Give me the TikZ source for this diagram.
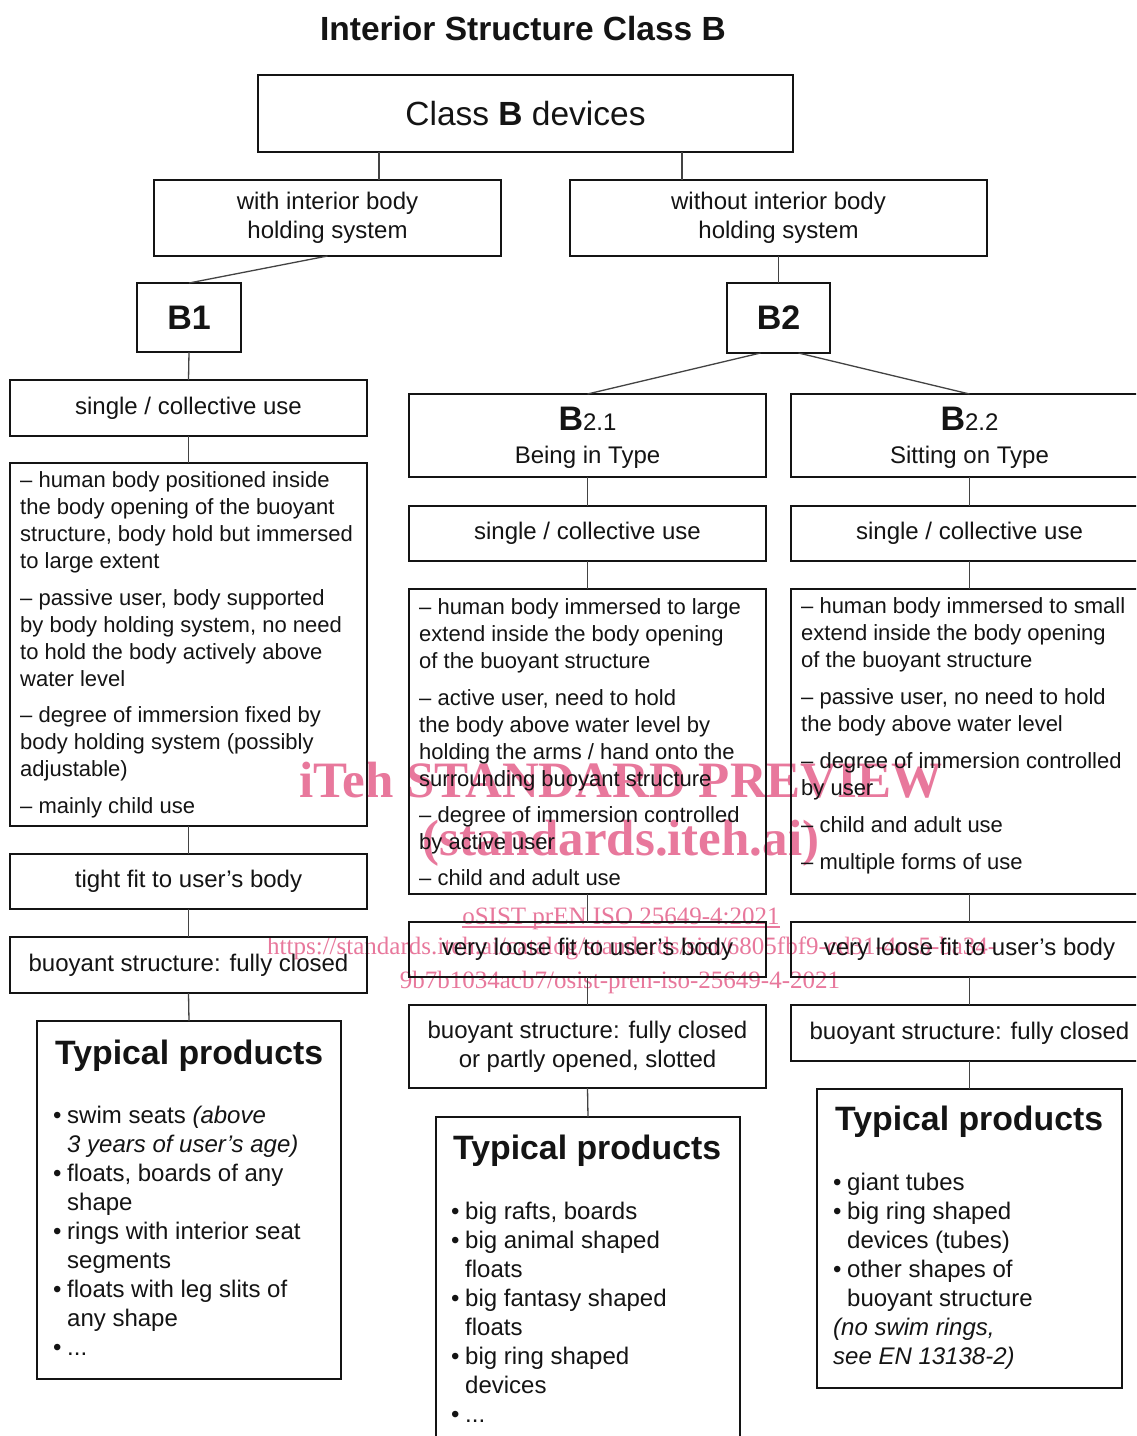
\documentclass[tikz,border=0pt]{standalone}
\usepackage{fontspec}
\setmainfont{Liberation Sans}
\newfontfamily\wmfont{Liberation Serif}
\usetikzlibrary{calc}
\definecolor{wmpink}{RGB}{232,120,156}
\definecolor{ink}{RGB}{20,20,20}
\newcommand{\fsz}[2]{\fontsize{#1}{#2}\selectfont}
\newcommand{\bul}{\makebox[14pt][l]{•}}
\newcommand{\ind}{\hspace*{14pt}}
\begin{document}
\begin{tikzpicture}[x=1pt,y=-1pt,
  box/.style={draw=ink,line width=1.8pt,inner sep=0pt,outer sep=0pt,text=ink,align=center,font=\fsz{24}{29}},
  conn/.style={draw=ink!80,line width=1.3pt},
  desc/.style={anchor=base west,inner sep=0pt,align=left,text=ink,font=\fsz{22}{27}},
  prodhead/.style={anchor=base west,inner sep=0pt,text=ink,font=\fsz{33.8}{33.8}\bfseries},
  prodlist/.style={anchor=base west,inner sep=0pt,align=left,text=ink,font=\fsz{24}{29}},
  wmbig/.style={anchor=base,inner sep=0pt,text=wmpink,font=\wmfont\fsz{51}{51}\bfseries},
  wmsmall/.style={inner sep=0pt,text=wmpink,font=\wmfont\fsz{25}{25}}
]
\useasboundingbox (0,0) rectangle (1136,1436);
\clip (0,0) rectangle (1136,1436);
\fill[white] (0,0) rectangle (1136,1436);

% watermark
\node[wmbig] (wm1) at (621,797) {iTeh STANDARD PREVIEW};
\node[wmbig] (wm2) at (621,855) {(standards.iteh.ai)};
\node[wmsmall,anchor=base] (wm3) at (621,924) {oSIST prEN ISO 25649-4:2021};
\draw[wmpink,line width=1.2pt] ($(wm3.base west)+(0,3)$) -- ($(wm3.base east)+(0,3)$);
\node[wmsmall,anchor=base west] (wm4) at (267,954) {https://standards.iteh.ai/catalog/standards/sist/6805fbf9-cd31-4ce5-ba34-};
\node[wmsmall,anchor=base] (wm5) at (620,988) {9b7b1034acb7/osist-pren-iso-25649-4-2021};

% title
\node[anchor=base,inner sep=0pt,text=ink,font=\fsz{33.5}{33.5}\bfseries] (title) at (523,40) {Interior Structure Class B};

% top level
\node[box,minimum width=535pt,minimum height=77pt,font=\fsz{33.5}{33.5}] (classb) at (525.5,113.5) {Class \textbf{B} devices};
\node[box,minimum width=347pt,minimum height=76pt] (with) at (327.5,218) {with interior body\\holding system};
\node[box,minimum width=417pt,minimum height=76pt] (without) at (778.5,218) {without interior body\\holding system};
\node[box,minimum width=104pt,minimum height=69pt,font=\fsz{34}{34}\bfseries] (b1) at (189,317.5) {B1};
\node[box,minimum width=103pt,minimum height=70pt,font=\fsz{34}{34}\bfseries] (b2) at (778.5,318) {B2};

% B1 column
\node[box,minimum width=357pt,minimum height=56pt] (b1use) at (188.5,408) {single / collective use};
\node[box,minimum width=357pt,minimum height=363pt] (b1desc) at (188.5,644.5) {};
\node[box,minimum width=357pt,minimum height=55pt] (b1fit) at (188.5,881.5) {tight fit to user's body};
\node[box,minimum width=357pt,minimum height=56pt] (b1buoy) at (188.5,965) {buoyant structure: fully closed};
\node[box,minimum width=304pt,minimum height=358pt] (b1prod) at (189,1200) {};

\node[desc] (t1desc) at (20,813) {– human body positioned inside\\ the body opening of the buoyant\\ structure, body hold but immersed\\ to large extent\\[9.5pt] – passive user, body supported\\ by body holding system, no need\\ to hold the body actively above\\ water level\\[9.5pt] – degree of immersion fixed by\\ body holding system (possibly\\ adjustable)\\[9.5pt] – mainly child use};
\node[prodhead] (t1head) at (55,1064) {Typical products};
\node[prodlist] (t1list) at (53,1355) {\bul swim seats \textit{(above}\\ \ind\textit{3 years of user's age)}\\ \bul floats, boards of any\\ \ind shape\\ \bul rings with interior seat\\ \ind segments\\ \bul floats with leg slits of\\ \ind any shape\\ \bul ...};

% B2.1 column
\node[box,minimum width=357pt,minimum height=83pt] (b21) at (587.5,435.5) {};
\node[anchor=base,inner sep=0pt,text=ink] (t21a) at (587.5,430) {\fsz{34}{34}\textbf{B}\fsz{24}{24}2.1};
\node[anchor=base,inner sep=0pt,text=ink,font=\fsz{24}{24}] (t21b) at (587.5,463) {Being in Type};
\node[box,minimum width=357pt,minimum height=55pt] (b21use) at (587.5,533.5) {single / collective use};
\node[box,minimum width=357pt,minimum height=305pt] (b21desc) at (587.5,741.5) {};
\node[box,minimum width=357pt,minimum height=55pt] (b21fit) at (587.5,949.5) {very loose fit to user's body};
\node[box,minimum width=357pt,minimum height=83pt] (b21buoy) at (587.5,1046.5) {buoyant structure: fully closed\\or partly opened, slotted};
\node[box,minimum width=304pt,minimum height=343pt] (b21prod) at (588,1288.5) {};

\node[desc] (t21desc) at (419,885) {– human body immersed to large\\ extend inside the body opening\\ of the buoyant structure\\[10pt] – active user, need to hold\\ the body above water level by\\ holding the arms / hand onto the\\ surrounding buoyant structure\\[9pt] – degree of immersion controlled\\ by active user\\[9pt] – child and adult use};
\node[prodhead] (t21head) at (453,1159) {Typical products};
\node[prodlist] (t21list) at (451,1422) {\bul big rafts, boards\\ \bul big animal shaped\\ \ind floats\\ \bul big fantasy shaped\\ \ind floats\\ \bul big ring shaped\\ \ind devices\\ \bul ...};

% B2.2 column
\node[box,minimum width=357pt,minimum height=83pt] (b22) at (969.5,435.5) {};
\node[anchor=base,inner sep=0pt,text=ink] (t22a) at (969.5,430) {\fsz{34}{34}\textbf{B}\fsz{24}{24}2.2};
\node[anchor=base,inner sep=0pt,text=ink,font=\fsz{24}{24}] (t22b) at (969.5,463) {Sitting on Type};
\node[box,minimum width=357pt,minimum height=55pt] (b22use) at (969.5,533.5) {single / collective use};
\node[box,minimum width=357pt,minimum height=305pt] (b22desc) at (969.5,741.5) {};
\node[box,minimum width=357pt,minimum height=55pt] (b22fit) at (969.5,949.5) {very loose fit to user's body};
\node[box,minimum width=357pt,minimum height=56pt] (b22buoy) at (969.5,1033) {buoyant structure: fully closed};
\node[box,minimum width=305pt,minimum height=299pt] (b22prod) at (969.5,1238.5) {};

\node[desc] (t22desc) at (801,869) {– human body immersed to small\\ extend inside the body opening\\ of the buoyant structure\\[10pt] – passive user, no need to hold\\ the body above water level\\[10pt] – degree of immersion controlled\\ by user\\[10pt] – child and adult use\\[10pt] – multiple forms of use};
\node[prodhead] (t22head) at (835,1130) {Typical products};
\node[prodlist] (t22list) at (833,1364) {\bul giant tubes\\ \bul big ring shaped\\ \ind devices (tubes)\\ \bul other shapes of\\ \ind buoyant structure\\ \textit{(no swim rings,}\\ \textit{see EN 13138-2)}};

% connectors
\coordinate (k1) at (379,0);
\coordinate (k2) at (682,0);
\draw[conn] (classb.south -| k1) -- (with.north -| k1);
\draw[conn] (classb.south -| k2) -- (without.north -| k2);
\draw[conn] (with.south) -- (b1.north);
\draw[conn] (without.south) -- (b2.north);
\draw[conn] (b1.south) -- (b1use.north);
\draw[conn] (b1use.south) -- (b1desc.north);
\draw[conn] (b1desc.south) -- (b1fit.north);
\draw[conn] (b1fit.south) -- (b1buoy.north);
\draw[conn] (b1buoy.south) -- (b1prod.north);
\draw[conn] ($(b2.south)+(-18,0)$) -- (b21.north);
\draw[conn] ($(b2.south)+(20,0)$) -- (b22.north);
\draw[conn] (b21.south) -- (b21use.north);
\draw[conn] (b21use.south) -- (b21desc.north);
\draw[conn] (b21desc.south) -- (b21fit.north);
\draw[conn] (b21fit.south) -- (b21buoy.north);
\draw[conn] (b21buoy.south) -- (b21prod.north);
\draw[conn] (b22.south) -- (b22use.north);
\draw[conn] (b22use.south) -- (b22desc.north);
\draw[conn] (b22desc.south) -- (b22fit.north);
\draw[conn] (b22fit.south) -- (b22buoy.north);
\draw[conn] (b22buoy.south) -- (b22prod.north);
\end{tikzpicture}
\end{document}
